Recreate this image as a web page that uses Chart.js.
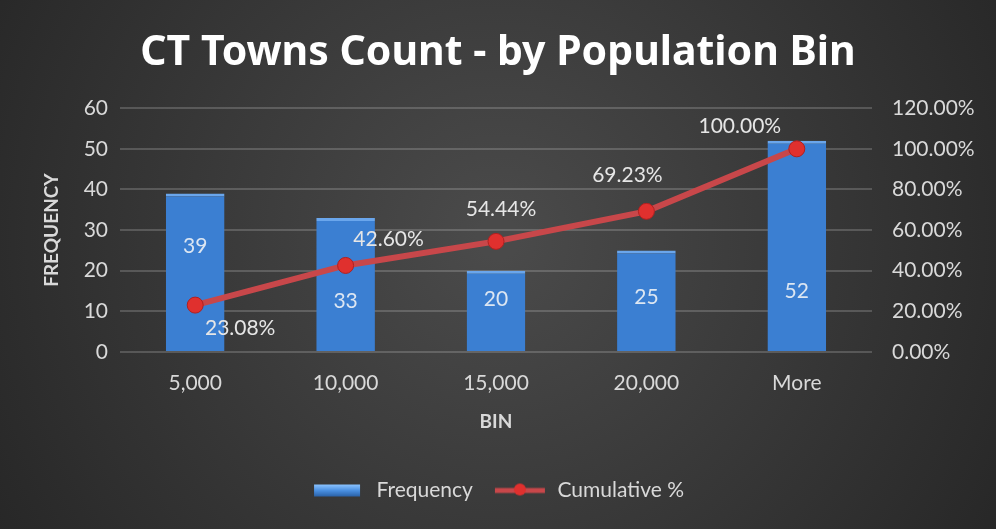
<!DOCTYPE html>
<html>
<head>
<meta charset="utf-8">
<script src="https://cdn.jsdelivr.net/npm/chart.js@4/dist/chart.umd.min.js"></script>
<style>
  html, body { margin: 0; padding: 0; background: #2a2a2a; }
  #wrap { width: 996px; height: 529px; position: relative; }
</style>
</head>
<body>
<div id="wrap"><canvas id="grafico"></canvas></div>
<script>
// Datos
const bins = ["5,000", "10,000", "15,000", "20,000", "More"];
const frequency = [39, 33, 20, 25, 52];
const cumulative = [23.08, 42.60, 54.44, 69.23, 100.00];
const freqTicks = [0, 10, 20, 30, 40, 50, 60];
const pctTicks = [0, 20, 40, 60, 80, 100, 120];

const textColor = "#d9d9d9";
const barBlue = "#3b7fd2";
const lineRed = "#c8474a";
const tickFont = { family: "Lato", size: 21 };

// Iconos de la leyenda
function legendIcon(tipo) {
  const c = document.createElement("canvas");
  c.width = 54; c.height = 18;
  const g = c.getContext("2d");
  if (tipo === "bar") {
    const grad = g.createLinearGradient(0, 3, 0, 15);
    grad.addColorStop(0, "#8cc4ff");
    grad.addColorStop(0.5, "#4a90e2");
    grad.addColorStop(1, "#2a62a8");
    g.fillStyle = grad;
    g.fillRect(2, 3, 46, 12);
  } else {
    g.strokeStyle = lineRed;
    g.lineWidth = 5;
    g.beginPath(); g.moveTo(2, 9); g.lineTo(52, 9); g.stroke();
    g.fillStyle = "#e0302e";
    g.beginPath(); g.arc(27, 8, 6, 0, Math.PI * 2); g.fill();
  }
  return c;
}

// Fondo degradado
const fondo = {
  id: "fondo",
  beforeDraw(chart) {
    const { ctx, width, height } = chart;
    const grad = ctx.createRadialGradient(width / 2, height * 0.45, 20, width / 2, height * 0.45, width * 0.6);
    grad.addColorStop(0, "#4a4a4a");
    grad.addColorStop(1, "#262626");
    ctx.save();
    ctx.fillStyle = grad;
    ctx.fillRect(0, 0, width, height);
    ctx.restore();
  }
};

// Etiquetas de datos (a mano, sin plugin externo)
const etiquetas = {
  id: "etiquetas",
  afterDatasetsDraw(chart) {
    const { ctx } = chart;
    const yScale = chart.scales.y;
    const lineMeta = chart.getDatasetMeta(0);
    const barMeta = chart.getDatasetMeta(1);
    const barLabelAt = [26, 12.5, 13, 13.5, 15];
    const lineOffsets = [[45, 23], [43, -26], [5, -32], [-19, -36], [-57, -23]];
    ctx.save();
    ctx.font = "21px Lato";
    ctx.textAlign = "center";
    ctx.textBaseline = "middle";
    ctx.fillStyle = "#dce6f2";
    barMeta.data.forEach((bar, i) => {
      ctx.fillText(String(frequency[i]), bar.x, yScale.getPixelForValue(barLabelAt[i]));
    });
    ctx.fillStyle = "#e6e6e6";
    lineMeta.data.forEach((pt, i) => {
      ctx.fillText(cumulative[i].toFixed(2) + "%", pt.x + lineOffsets[i][0], pt.y + lineOffsets[i][1]);
    });
    ctx.restore();
  }
};

const ctx = document.getElementById("grafico").getContext("2d");
const chart = new Chart(ctx, {
  data: {
    labels: bins,
    datasets: [
      {
        type: "line",
        label: "Cumulative %",
        data: cumulative,
        yAxisID: "y1",
        borderColor: lineRed,
        borderWidth: 6,
        pointRadius: 8,
        pointBackgroundColor: "#e0302e",
        pointBorderColor: "#b02020",
        pointBorderWidth: 1,
        order: 0
      },
      {
        type: "bar",
        label: "Frequency",
        data: frequency,
        yAxisID: "y",
        backgroundColor: barBlue,
        borderColor: "#6aa6ec",
        borderWidth: { top: 3, left: 0, right: 0, bottom: 0 },
        categoryPercentage: 1,
        barPercentage: 0.39,
        order: 1
      }
    ]
  },
  options: {
    responsive: true,
    maintainAspectRatio: false,
    animation: false,
    layout: { padding: { top: 0, bottom: 18, left: 0, right: 0 } },
    plugins: {
      title: {
        display: true,
        text: "CT Towns Count - by Population Bin",
        color: "#ffffff",
        font: { family: "Noto Sans", size: 41, weight: "bold", lineHeight: 1.2 },
        padding: { top: 29, bottom: 30 }
      },
      legend: {
        position: "bottom",
        labels: {
          color: textColor,
          font: { family: "Lato", size: 21 },
          usePointStyle: true,
          pointStyleWidth: 54,
          padding: 20,
          generateLabels(chart) {
            return [
              { text: "Frequency", pointStyle: legendIcon("bar"), fontColor: textColor, datasetIndex: 1, lineWidth: 0 },
              { text: "Cumulative %", pointStyle: legendIcon("line"), fontColor: textColor, datasetIndex: 0, lineWidth: 0 }
            ];
          }
        }
      },
      tooltip: { enabled: false }
    },
    scales: {
      x: {
        grid: { display: false },
        border: { display: false },
        ticks: { color: textColor, font: tickFont, padding: 11 },
        title: { display: true, text: "BIN", color: textColor, font: { family: "Lato", size: 19, weight: "bold" }, padding: { top: 3, bottom: 27 } }
      },
      y: {
        position: "left",
        min: 0,
        max: 60,
        afterBuildTicks(s) { s.ticks = freqTicks.map(v => ({ value: v })); },
        afterFit(s) { s.width = 120; },
        grid: { color: "rgba(217,217,217,0.22)", lineWidth: 2, drawTicks: false },
        border: { display: false },
        ticks: { color: textColor, font: tickFont, padding: 12 },
        title: { display: true, text: "FREQUENCY", color: textColor, font: { family: "Lato", size: 19, weight: "bold" }, padding: { top: 40, bottom: 0 } }
      },
      y1: {
        position: "right",
        min: 0,
        max: 120,
        afterBuildTicks(s) { s.ticks = pctTicks.map(v => ({ value: v })); },
        afterFit(s) { s.width = 124; },
        grid: { display: false },
        border: { display: false },
        ticks: {
          color: textColor,
          font: tickFont,
          padding: 12,
          callback: v => v.toFixed(2) + "%"
        }
      }
    }
  },
  plugins: [fondo, etiquetas]
});
</script>
</body>
</html>
